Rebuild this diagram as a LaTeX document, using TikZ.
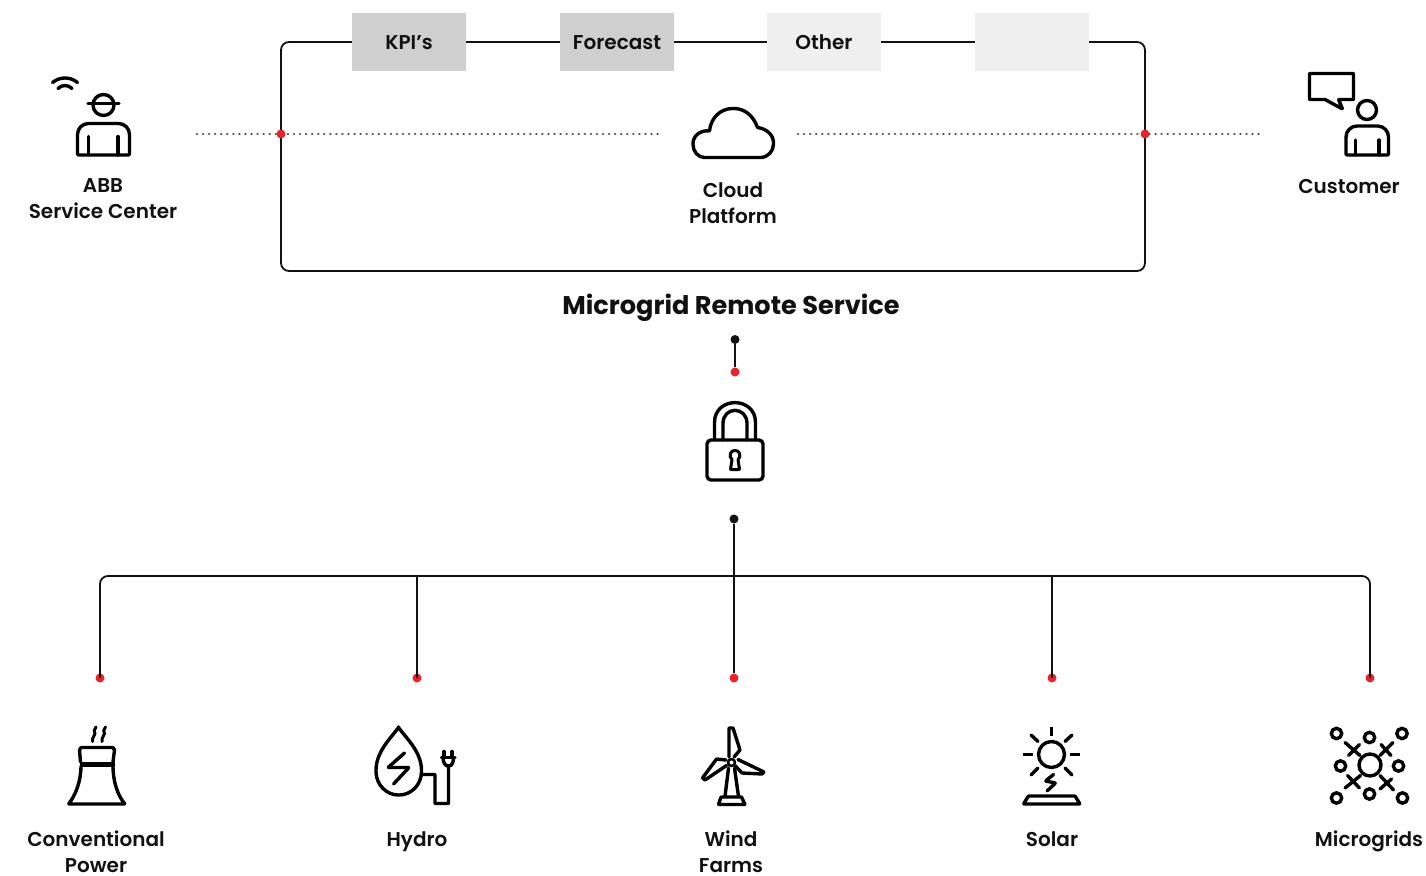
\documentclass[tikz,border=0pt]{standalone}
\usepackage{fontspec}
\setmainfont{Poppins SemiBold}
\newfontfamily\titlefont{Poppins Bold}
\definecolor{ink}{HTML}{111111}
\definecolor{reddot}{HTML}{E8232A}
\definecolor{boxdark}{HTML}{CFCFCF}
\definecolor{boxlight}{HTML}{EFEFEF}
\definecolor{dotgray}{HTML}{444444}
\tikzset{
  x=1pt,y=-1pt,
  wire/.style={draw=ink,line width=1.8pt},
  frameline/.style={wire,rounded corners=8pt},
  dotline/.style={draw=dotgray,line width=2.8pt,line cap=round,dash pattern=on 0.01pt off 6.05pt},
  icon/.style={draw=black,line width=3.4pt,line cap=round,line join=round,rounded corners=0.5pt},
  thin icon/.style={icon,line width=3pt},
  bar/.style={minimum width=114pt,minimum height=58pt,inner sep=0pt,text height=18pt,text depth=4pt,font=\fontsize{20}{25}\selectfont,text=ink},
  lbl/.style={align=center,font=\fontsize{20}{26}\selectfont,text=ink,inner sep=0pt},
  reddotn/.style={circle,fill=reddot,inner sep=0pt,minimum size=9pt},
  blackdotn/.style={circle,fill=ink,inner sep=0pt,minimum size=9pt},
}
\begin{document}
\begin{tikzpicture}
\useasboundingbox (0,0) rectangle (1426,875);
% cloud frame
\draw[frameline] (352,42) -- (281,42) -- (281,271) -- (1145,271) -- (1145,42) -- (1089,42);
\node[bar,fill=boxdark] (kpi) at (409,42) {KPI’s};
\node[bar,fill=boxdark] (fc) at (617,42) {Forecast};
\node[bar,fill=boxlight] (oth) at (824,42) {Other};
\node[bar,fill=boxlight] (emp) at (1032,42) {};
\draw[wire] (kpi) -- (fc);
\draw[wire] (fc) -- (oth);
\draw[wire] (oth) -- (emp);
% dotted links
\coordinate (dl1) at (197,134);
\coordinate (dl2) at (660,134);
\coordinate (dr1) at (798,134);
\coordinate (dr2) at (1261,134);
\draw[dotline] (dl1) -- (dl2);
\draw[dotline] (dr1) -- (dr2);
\node[reddotn] (r1) at (281,134) {};
\node[reddotn] (r2) at (1145,134) {};
% labels
\node[lbl] (l1) at (103,199) {ABB\\Service Center};
\node[lbl,anchor=base] (l2) at (1349,193) {Customer};
\node[lbl] (l3) at (733,203) {Cloud\\Platform};
\node[lbl,anchor=base,font=\titlefont\fontsize{25.6}{30}\selectfont] (l4) at (731,314) {Microgrid Remote Service};
\node[lbl] (l5) at (96,852) {Conventional\\Power};
\node[lbl,anchor=base] (l6) at (417,846) {Hydro};
\node[lbl] (l7) at (731,852) {Wind\\Farms};
\node[lbl,anchor=base] (l8) at (1052,846) {Solar};
\node[lbl,anchor=base] (l9) at (1369,846) {Microgrids};
% vertical connectors
\node[blackdotn] (b1) at (735,339.5) {};
\node[reddotn] (r3) at (735,372) {};
\draw[wire] (b1) -- (r3);
\node[blackdotn] (b2) at (734,519) {};
\node[reddotn] (d1) at (100,678) {};
\node[reddotn] (d2) at (417,678) {};
\node[reddotn] (d3) at (734,678) {};
\node[reddotn] (d4) at (1052,678) {};
\node[reddotn] (d5) at (1370,678) {};
\draw[wire] (b2) -- (d3);
\draw[wire] (d2.center) -- (417,576);
\draw[wire] (d4.center) -- (1052,576);
\draw[frameline] (d1.center) -- (100,576) -- (1370,576) -- (d5.center);
% worker
\draw[icon] (52.5,82.5) .. controls (60,76.5) and (70,76.5) .. (77.5,82.5);
\draw[icon] (58,88.5) .. controls (62,84.5) and (68,84.5) .. (72,88.5);
\draw[icon] (103.5,105) circle (10.5);
\draw[icon] (88,103.5) -- (119,103.5);
\draw[icon] (77.5,155) [rounded corners=11pt] -- (77.5,123.5) -- (129.5,123.5) [rounded corners=1pt] -- (129.5,155) -- cycle;
\draw[icon] (88.5,136.5) -- (88.5,155);
\draw[icon] (118,136.5) -- (118,155);
% customer
\draw[icon] (1309.5,73.5) -- (1353.5,73.5) -- (1353.5,99.5) -- (1338.5,99.5) -- (1342.5,109) -- (1325,99.5) -- (1309.5,99.5) -- cycle;
\draw[icon] (1367,110) circle (9.5);
\draw[icon] (1346,155) [rounded corners=11pt] -- (1346,126) -- (1388.5,126) [rounded corners=1pt] -- (1388.5,155) -- cycle;
\draw[icon] (1355.5,140) -- (1355.5,155);
\draw[icon] (1379,140) -- (1379,155);
% cloud
\draw[icon] (705,157.5) -- (760,157.5) .. controls (768,157.5) and (773.5,151) .. (773.5,143.5)
  .. controls (773.5,135) and (767,129) .. (757.5,127.5)
  .. controls (753,115) and (744,108.5) .. (733.5,108.5)
  .. controls (720,108.5) and (711,118) .. (709.5,131)
  .. controls (700,130) and (693,136) .. (693,144)
  .. controls (693,151.5) and (698,157.5) .. (705,157.5) -- cycle;
% lock
\draw[icon,rounded corners=4pt] (707,440) -- (763,440) -- (763,480) -- (707,480) -- cycle;
\draw[icon] (714.5,440) -- (714.5,423) .. controls (714.5,396) and (755.5,396) .. (755.5,423) -- (755.5,440);
\draw[icon] (723,440) -- (723,424) .. controls (723,406) and (747,406) .. (747,424) -- (747,440);
\draw[icon,line width=3pt] (730.5,469.5) -- (739.5,469.5) -- (738,459.5) .. controls (741.5,456) and (739.5,450.5) .. (735,450.5) .. controls (730.5,450.5) and (728.5,456) .. (732,459.5) -- cycle;
% tower
\draw[thin icon] (92.5,741.5) .. controls (91.5,737) and (97,734) .. (94,731) -- (96,727);
\draw[thin icon] (102,741.5) .. controls (101,737) and (106.5,734) .. (103.5,731) -- (105.5,727);
\draw[icon] (80.5,762) -- (79.5,750) -- (81,747.5) -- (113,747.5) -- (114.5,750) -- (113,762);
\draw[icon,line width=5pt,line cap=butt] (79.5,764) -- (114.5,764);
\draw[icon] (81,766) .. controls (81,782) and (75,796) .. (68.5,804) -- (125,804) .. controls (118,796) and (113,782) .. (113,766);
% hydro
\draw[icon] (398.5,727.5) .. controls (390,739) and (376,752) .. (376,771) .. controls (376,785) and (387,795) .. (398.5,795) .. controls (411,795) and (421.5,785) .. (421.5,771) .. controls (421.5,752) and (407,739) .. (398.5,727.5) -- cycle;
\draw[icon] (404.5,753) -- (388,767.5) -- (409,767.5) -- (393.5,784);
\draw[icon] (421.5,774.5) -- (435,774.5) -- (435,803.5) -- (448.5,803.5) -- (448.5,766);
\draw[icon] (441.5,757.5) -- (455,757.5);
\draw[icon] (443,757.5) .. controls (443,763) and (445.5,766) .. (448.5,766) .. controls (451.5,766) and (453.5,763) .. (453.5,757.5);
\draw[icon] (444,751.5) -- (444,757.5);
\draw[icon] (452,751.5) -- (452,757.5);
% wind
\draw[icon] (729,757) -- (729,728) -- (733,728) -- (740,750) -- (734,757);
\draw[icon] (738,759.5) -- (764,772) -- (762,774) -- (742,773) -- (735,765.5);
\draw[icon] (726,760) -- (716.5,759) -- (702.5,778) -- (705,780) -- (726.5,765.5);
\draw[icon,line width=2.6pt] (731.5,762.5) circle (3.5);
\draw[icon] (728.5,768) -- (725,796.5);
\draw[icon] (734.5,768) -- (738.5,796.5);
\draw[icon] (721,797) -- (741.5,797) -- (745,804.5) -- (718.5,804.5) -- cycle;
% solar
\draw[icon] (1051.5,754.5) circle (13);
\draw[icon,line cap=butt] (1051.5,726.5) -- (1051.5,735.5);
\draw[icon,line cap=butt] (1023,754.5) -- (1033,754.5);
\draw[icon,line cap=butt] (1070,754.5) -- (1080,754.5);
\draw[icon] (1031,735) -- (1038,741.5);
\draw[icon] (1072,735) -- (1065,741.5);
\draw[icon] (1031,775) -- (1038,768);
\draw[icon] (1072,775) -- (1065,768);
\draw[icon] (1053.5,774.5) -- (1045.5,781) -- (1055.5,783) -- (1047,791);
\draw[icon] (1028.5,796) -- (1075,796) -- (1080,804) -- (1023.5,804) -- cycle;
% microgrid
\draw[icon] (1370,765) circle (11);
\foreach \cx/\cy in {1336.5/733.5,1369.5/737.5,1402/733.5,1340.5/766,1398.5/766,1336.5/798,1369.5/794,1402.5/798}
  \draw[icon] (\cx,\cy) circle (5.2);
\foreach \ax/\ay/\bx/\by in {1345/742.5/1360/755.5,1348.5/755.5/1359.5/744.5,1393/742.5/1380/755.5,1381/744.5/1391/755.5,1345/788/1360.5/775.5,1347.5/775.5/1359.5/788,1393.5/790/1380/775.5,1380/789/1391.5/779}
  \draw[icon] (\ax,\ay) -- (\bx,\by);
\end{tikzpicture}
\end{document}
